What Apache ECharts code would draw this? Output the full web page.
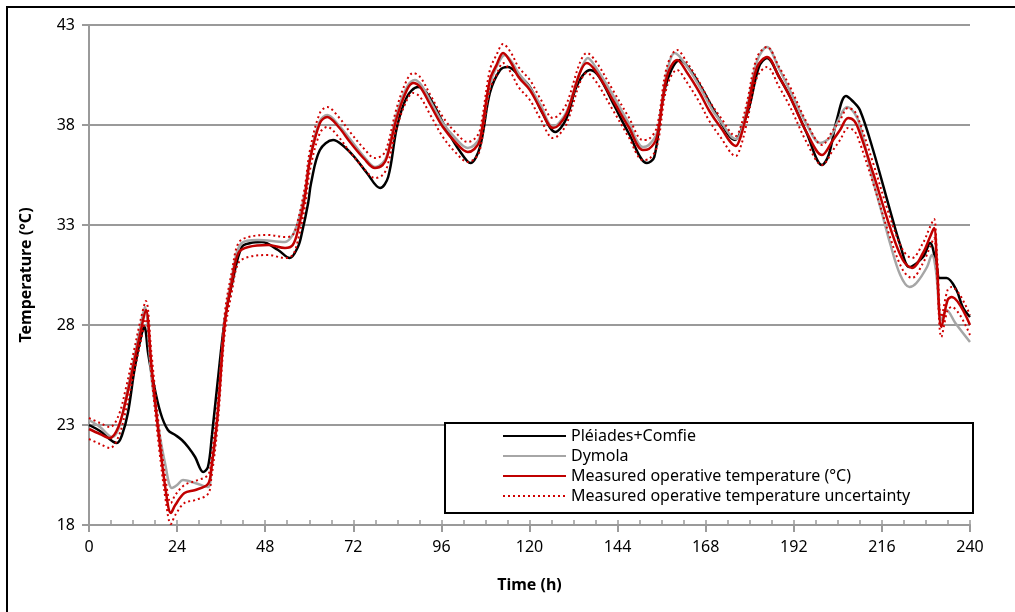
<!DOCTYPE html>
<html lang="en">
<head>
  <meta charset="UTF-8">
  <title>Temperature</title>
  <script src="https://cdn.jsdelivr.net/npm/echarts@6/dist/echarts.min.js"></script>
</head>
<body style="margin:0">
  <div id="main" style="width:1015px;height:612px"></div>
  <script>
    // Pléiades+Comfie (black)
    var pleiadesHours = [0,3,7.6,9,10.6,12.5,14.4,15.1,16.1,17.4,19.5,21.5,23.5,25.3,27,28.9,31.1,32.4,33.5,35.1,37,39,41.6,44,47.1,51.5,54.7,56.9,58,59.7,60.5,62.9,66.5,69,72.3,75.7,79.3,81.5,83.9,86.6,89.6,92,97.5,101,103.9,106.5,109.2,112,114.1,117,120.1,123.5,127,130,133,136.5,139,143,147,152,154,157,161,164,167.2,171,176,178,180,182.5,184.7,188,191,195.5,199.7,201.5,203.7,206.2,208,210,213.6,218.2,221,223.5,227.2,229.1,231,231.7,233.6,236.3,238,240]
    var pleiadesTemp = [23.0,22.7,22.1,22.5,23.6,25.9,27.6,27.9,26.6,25.25,23.6,22.75,22.5,22.25,21.9,21.4,20.65,20.9,22.5,25.25,28.25,30.1,31.9,32.1,32.15,31.75,31.35,31.9,32.6,34.1,35.1,36.75,37.25,37.0,36.4,35.6,34.85,35.4,37.9,39.4,39.9,39.6,37.75,36.7,36.1,36.9,39.6,40.75,40.9,40.5,39.9,38.6,37.65,38.3,40.0,40.75,40.4,39.0,37.6,36.1,36.4,39.9,41.25,40.7,39.75,38.5,37.25,37.9,39.0,40.9,41.35,40.4,39.4,37.6,36.0,36.5,38.25,39.45,39.2,38.75,36.75,33.75,32.0,30.9,31.4,32.1,30.85,30.35,30.35,29.75,28.9,28.4]

    // Dymola (grey)
    var dymolaHours = [0,3,6.3,8,10,12,14,15.2,17.1,19,20.7,22.6,24,25.6,28.9,32.4,33.3,35,37,39,41.6,46,53.4,55.5,57,58.8,60.2,62.9,64.9,68,71.1,75,77.9,80,81.2,83.9,86.6,88.8,90.5,93,96.4,100,103.2,105,106.5,109.2,111,113.3,115,117,120,123,126.4,128,130.2,133.7,135.9,138,142.7,147,150.9,152.5,154.7,157.4,159.6,163,166.4,170,172,176.2,177.5,179.2,182,184.7,188,191,195.6,199.2,202,204,206.5,208.5,210,213.6,216,218.2,221,223.5,225.4,228.3,229.6,230.7,232.2,233.6,236,240]
    var dymolaTemp = [23.25,22.9,22.4,22.8,24.3,26.1,27.9,28.9,25.25,22.8,21.1,19.85,20.0,20.25,20.1,19.9,20.7,23.5,28.2,30.5,32.1,32.25,32.15,32.5,33.2,34.6,36.4,38.2,38.5,38.0,37.3,36.4,35.9,36.1,36.5,38.6,39.9,40.25,40.0,39.2,38.1,37.3,36.85,37.0,37.4,40.0,40.9,41.5,41.2,40.6,39.9,39.0,37.9,38.1,38.7,40.6,41.35,40.9,39.5,38.1,36.9,37.0,37.6,40.6,41.6,40.9,39.9,38.7,38.2,37.3,37.6,38.8,41.2,41.9,40.8,39.7,38.0,37.1,37.4,38.2,38.9,38.6,38.0,35.2,33.6,32.1,30.5,29.9,30.1,30.9,31.5,30.75,28.25,28.75,28.1,27.15]

    // measured operative temperature + uncertainty bounds (red)
    var measHours = [0,3,5.7,8,10,12,14,15.5,17,19,21,22.3,23.5,26,29,32.4,33.3,35,37,39,40.7,43.4,48.8,53.4,55.5,57,58.8,60.2,62.9,64.9,68,71.1,75,77.9,80,81.2,83.9,86.6,88.3,90.2,93,96.4,100,103.2,105,106.5,109.2,111,112.8,115,117,120.1,123,126.4,128,130.2,133.7,135.6,138,142.7,147,150.9,152.5,154.7,157.4,160.2,163,166.4,169,172,176.2,177.5,179.2,182,184.7,188,191,195.6,199.7,202.7,204.6,206.8,208.5,210,213.6,218.2,221.7,224.2,227.2,229.1,230.2,231,232.2,233.9,235,240]
    var measTemp = [22.8,22.55,22.35,22.9,24.2,25.9,27.6,28.75,26.0,22.5,19.6,18.6,19.0,19.6,19.75,20.05,20.8,23.4,28.1,30.25,31.6,31.9,32.0,31.85,32.0,32.8,34.4,36.25,38.1,38.4,37.9,37.15,36.3,35.85,36.0,36.4,38.4,39.75,40.1,39.9,39.0,37.9,37.1,36.65,36.8,37.25,40.25,41.0,41.6,41.1,40.4,39.75,38.8,37.85,38.0,38.6,40.6,41.1,40.7,39.25,37.9,36.75,36.8,37.4,40.4,41.25,40.6,39.6,38.7,37.9,36.95,37.4,38.6,40.9,41.4,40.4,39.4,37.6,36.5,37.25,37.75,38.35,38.2,37.6,35.6,32.9,31.25,30.85,31.6,32.4,32.85,31.0,27.9,29.25,29.4,28.0]
    var measUpper = [23.35,23.1,22.9,23.45,24.8,26.5,28.2,29.2,26.6,23.0,20.1,19.1,19.5,20.0,20.2,20.5,21.3,24.0,28.6,30.75,32.1,32.4,32.5,32.4,32.5,33.3,34.9,36.75,38.6,38.9,38.4,37.65,36.8,36.35,36.5,36.9,38.9,40.25,40.6,40.4,39.5,38.4,37.6,37.15,37.3,37.75,40.75,41.5,42.05,41.6,40.9,40.25,39.3,38.35,38.5,39.1,41.1,41.6,41.2,39.75,38.4,37.25,37.3,37.9,40.9,41.75,41.1,40.1,39.2,38.4,37.45,37.9,39.1,41.4,41.9,40.9,39.9,38.1,37.0,37.75,38.25,38.85,38.7,38.1,36.1,33.4,31.75,31.35,32.1,32.9,33.3,31.5,28.4,29.75,29.9,28.5]
    var measLower = [22.3,22.05,21.85,22.4,23.7,25.4,27.1,28.3,25.5,22.0,19.1,18.05,18.5,19.1,19.25,19.55,20.3,22.9,27.6,29.75,31.1,31.4,31.5,31.35,31.5,32.3,33.9,35.75,37.6,37.9,37.4,36.65,35.8,35.35,35.5,35.9,37.9,39.25,39.6,39.4,38.5,37.4,36.6,36.15,36.3,36.75,39.75,40.5,41.1,40.6,39.9,39.25,38.3,37.35,37.5,38.1,40.1,40.6,40.2,38.75,37.4,36.25,36.3,36.9,39.9,40.75,40.1,39.1,38.2,37.4,36.45,36.9,38.1,40.4,40.9,39.9,38.9,37.1,36.0,36.75,37.25,37.85,37.7,37.1,35.1,32.4,30.75,30.35,31.1,31.9,32.35,30.5,27.4,28.75,28.9,27.5]

    var seriesNames = ['Pléiades+Comfie', 'Dymola', 'Measured operative temperature (°C)', 'Measured operative temperature uncertainty']

    function pairs(xs, ys) {
      var out = []
      for (var i = 0; i < xs.length; i++) out.push([xs[i], ys[i]])
      return out
    }

    var font = 'Noto Sans'
    var axisGray = '#9a9a9a'

    var chart = echarts.init(document.getElementById('main'))

    var lineBase = {
      type: 'line',
      showSymbol: false,
      symbol: 'none',
      smooth: 0.35,
      xAxisIndex: 0,
      animation: false
    }

    var option = {
      animation: false,
      backgroundColor: '#fff',
      grid: { left: 89, right: 45, top: 25, bottom: 87, containLabel: false },
      graphic: [
        { type: 'rect', shape: { x: 7, y: 7, width: 1030, height: 640 }, style: { fill: 'none', stroke: '#000', lineWidth: 2 }, silent: true, z: -10 },
        { type: 'rect', shape: { x: 445, y: 423, width: 528, height: 90 }, style: { fill: '#fff', stroke: '#000', lineWidth: 2 }, silent: true, z: 50 }
      ],
      legend: {
        left: 497,
        top: 421,
        orient: 'vertical',
        itemWidth: 63,
        itemHeight: 14,
        itemGap: 0,
        z: 60,
        data: seriesNames,
        // hide the marker dot, keep just the line sample
        itemStyle: { color: 'rgba(0,0,0,0)', borderColor: 'rgba(0,0,0,0)', borderWidth: 0 },
        textStyle: { fontFamily: font, fontSize: 16, color: '#000', lineHeight: 20 }
      },
      xAxis: [
        {
          type: 'value',
          min: 0,
          max: 240,
          interval: 24,
          name: 'Time (h)',
          nameLocation: 'middle',
          nameGap: 52,
          nameTextStyle: { fontFamily: font, fontSize: 16, fontWeight: 'bold', color: '#000' },
          axisLine: { show: true, lineStyle: { color: axisGray, width: 2 } },
          axisTick: { show: true, inside: false, length: 7, lineStyle: { color: axisGray, width: 2 } },
          axisLabel: { fontFamily: font, fontSize: 16, color: '#000', margin: 14 },
          splitLine: { show: false }
        },
        {
          type: 'value',
          min: 0,
          max: 240,
          interval: 6,
          position: 'bottom',
          axisLine: { show: false },
          axisTick: { show: true, inside: true, length: 5, lineStyle: { color: axisGray, width: 1.5 } },
          axisLabel: { show: false },
          splitLine: { show: false }
        }
      ],
      yAxis: {
        type: 'value',
        min: 18,
        max: 43,
        interval: 5,
        name: 'Temperature (°C)',
        nameLocation: 'middle',
        nameRotate: 90,
        nameGap: 55,
        nameTextStyle: { fontFamily: font, fontSize: 16, fontWeight: 'bold', color: '#000' },
        axisLine: { show: true, lineStyle: { color: axisGray, width: 2 } },
        axisTick: { show: true, inside: false, length: 7, lineStyle: { color: axisGray, width: 2 } },
        axisLabel: { fontFamily: font, fontSize: 16, color: '#000', margin: 14 },
        splitLine: { show: true, lineStyle: { color: axisGray, width: 2 } }
      },
      series: [
        Object.assign({}, lineBase, {
          name: seriesNames[0],
          data: pairs(pleiadesHours, pleiadesTemp),
          lineStyle: { color: '#000', width: 2.5 },
          itemStyle: { color: '#000' }
        }),
        Object.assign({}, lineBase, {
          name: seriesNames[1],
          data: pairs(dymolaHours, dymolaTemp),
          lineStyle: { color: '#a6a6a6', width: 2.5 },
          itemStyle: { color: '#a6a6a6' }
        }),
        Object.assign({}, lineBase, {
          name: seriesNames[2],
          data: pairs(measHours, measTemp),
          lineStyle: { color: '#c00000', width: 2.5 },
          itemStyle: { color: '#c00000' }
        }),
        Object.assign({}, lineBase, {
          name: seriesNames[3],
          data: pairs(measHours, measUpper),
          lineStyle: { color: '#d00000', width: 2, type: [2, 3] },
          itemStyle: { color: '#d00000' }
        }),
        Object.assign({}, lineBase, {
          name: seriesNames[3],
          data: pairs(measHours, measLower),
          lineStyle: { color: '#d00000', width: 2, type: [2, 3] },
          itemStyle: { color: '#d00000' }
        })
      ]
    }

    chart.setOption(option)
  </script>
</body>
</html>
